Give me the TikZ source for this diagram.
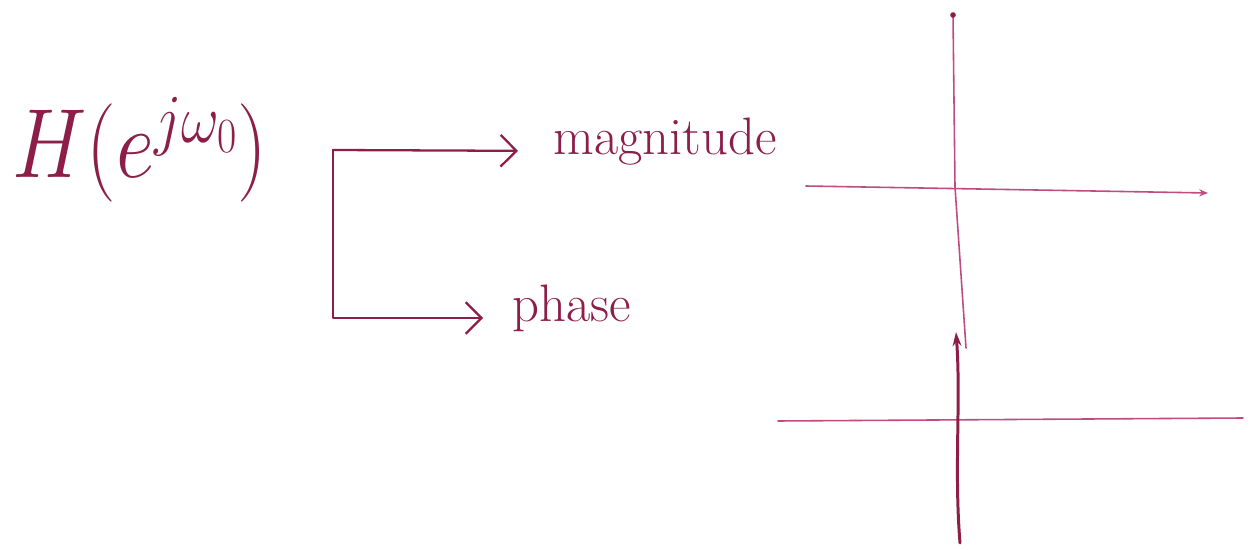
\RequirePackage{fix-cm}
\documentclass[tikz,border=0pt]{standalone}
\usepackage{graphicx}
\usetikzlibrary{arrows.meta}
\definecolor{ink}{RGB}{140,30,72}
\definecolor{pinkink}{RGB}{190,75,130}
\begin{document}
\begin{tikzpicture}[x=0.02cm,y=-0.02cm,
  pen/.style={draw=ink, line width=1.3pt, line cap=round, line join=round},
  chev/.style={-{Straight Barb[length=9pt,width=18pt,line width=1.3pt]}},
  lbl/.style={text=ink, inner sep=0pt, font=\fontsize{30}{36}\selectfont},
  axis/.style={draw=pinkink, line width=0.9pt, line cap=round},
]
\useasboundingbox[fill=white] (0,0) rectangle (1257,550);
% transfer function
\node[text=ink, inner sep=0pt, anchor=base] (H) at (140,178)
  {\fontsize{56}{64}\selectfont\scalebox{0.85}[1]{$H(e^{j\omega_0})$}};
% branching connector
\coordinate (c) at (333,150);
\node[lbl, anchor=mid west] (mag) at (553,151) {magnitude};
\node[lbl, anchor=mid west] (ph) at (512,318) {phase};
\draw[pen, chev, shorten >=0.7cm] (c) -- (mag.mid west);
\draw[pen, chev, shorten >=0.58cm] (c) |- (ph.mid west);
% upper axes
\coordinate (t1) at (953,15);
\coordinate (x1) at (955,187);
\coordinate (b1) at (966,348);
\draw[axis] (t1) -- (x1) -- (b1);
\fill[ink] (t1) circle (1.6pt);
\coordinate (h1a) at (806,186);
\coordinate (h1b) at (1208,193);
\draw[axis, -{Stealth[length=5pt,width=4pt]}] (h1a) -- (h1b);
% lower axes
\coordinate (h2a) at (778,421);
\coordinate (h2b) at (1243,418);
\draw[axis] (h2a) -- (h2b);
\coordinate (v2t) at (956,332);
\coordinate (v2b) at (960,543);
\draw[pen, line width=1.7pt, {Stealth[length=8pt,width=5pt]}-] (v2t) .. controls (961,400) and (954,470) .. (v2b);
\end{tikzpicture}
\end{document}
